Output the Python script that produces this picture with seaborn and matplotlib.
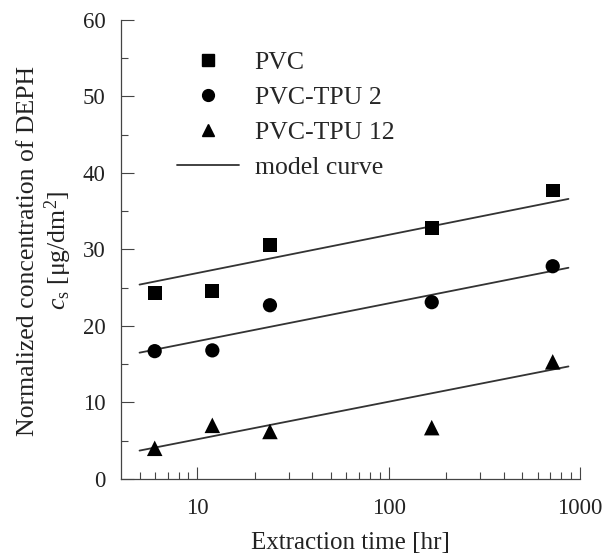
import numpy as np
import pandas as pd
import seaborn as sns
import matplotlib.pyplot as plt
from matplotlib.lines import Line2D
from matplotlib.ticker import FixedLocator, NullFormatter

# data
hours = [6, 12, 24, 168, 720]
pvc = [24.3, 24.6, 30.6, 32.8, 37.7]
tpu2 = [16.7, 16.8, 22.7, 23.1, 27.8]
tpu12 = [4.0, 7.0, 6.2, 6.7, 15.3]

# model curve endpoints (straight on log axis)
model_hours = [5, 870]
model_pvc = [25.4, 36.6]
model_tpu2 = [16.5, 27.6]
model_tpu12 = [3.7, 14.7]

series = ['PVC', 'PVC-TPU 2', 'PVC-TPU 12']

pts = pd.DataFrame({
    'hours': hours * 3,
    'cs': pvc + tpu2 + tpu12,
    'series': np.repeat(series, len(hours)),
})
model = pd.DataFrame({
    'hours': model_hours * 3,
    'cs': model_pvc + model_tpu2 + model_tpu12,
    'series': np.repeat(series, len(model_hours)),
})

sns.set_style('ticks')
plt.rcParams['font.family'] = ['Liberation Serif', 'DejaVu Serif']
plt.rcParams['mathtext.fontset'] = 'custom'
plt.rcParams['mathtext.rm'] = 'Liberation Serif'
plt.rcParams['mathtext.it'] = 'Liberation Serif:italic'

fig = plt.figure(figsize=(6.08, 5.53), dpi=100)
ax = fig.add_axes([0.199, 0.134, 0.755, 0.830])

markers = {'PVC': 's', 'PVC-TPU 2': 'o', 'PVC-TPU 12': '^'}
sizes = {'PVC': 100, 'PVC-TPU 2': 105, 'PVC-TPU 12': 125}

sns.lineplot(data=model, x='hours', y='cs', units='series', estimator=None,
             color='#333333', linewidth=1.3, ax=ax, legend=False)
for s in series:
    sns.scatterplot(data=pts[pts['series'] == s], x='hours', y='cs',
                    marker=markers[s], s=sizes[s], color='black',
                    edgecolor='none', ax=ax, legend=False, zorder=3)

ax.set_xscale('log')
ax.set_xlim(4, 1000)
ax.set_ylim(0, 60)
ax.xaxis.set_major_locator(FixedLocator([10, 100, 1000]))
ax.set_xticklabels(['10', '100', '1000'])
ax.xaxis.set_minor_locator(FixedLocator(
    [5, 6, 7, 8, 9, 20, 30, 40, 50, 60, 70, 80, 90,
     200, 300, 400, 500, 600, 700, 800, 900]))
ax.xaxis.set_minor_formatter(NullFormatter())
ax.set_yticks(range(0, 61, 10))
ax.yaxis.set_minor_locator(FixedLocator(range(5, 60, 10)))

sns.despine(ax=ax)
for sp in ['left', 'bottom']:
    ax.spines[sp].set_color('#444444')
    ax.spines[sp].set_linewidth(0.9)

ax.tick_params(which='major', direction='in', length=9, width=0.8,
               color='#444444', labelsize=16.5, labelcolor='#222222')
ax.tick_params(which='minor', direction='in', length=5, width=0.8,
               color='#444444')
ax.tick_params(axis='y', which='major', pad=11)
ax.tick_params(axis='x', which='major', pad=14)

ax.set_xlabel('Extraction time [hr]', fontsize=18, color='#222222')
ax.xaxis.set_label_coords(0.5, -0.115)
ax.set_ylabel('Normalized concentration of DEPH\n'
              r'$c_\mathrm{s}$ [μg/dm$^2$]',
              fontsize=18.5, color='#222222', linespacing=1.15)
ax.yaxis.set_label_coords(-0.102, 0.497)

handles = [Line2D([], [], marker='s', color='black', linestyle='none', markersize=8),
           Line2D([], [], marker='o', color='black', linestyle='none', markersize=8.5),
           Line2D([], [], marker='^', color='black', linestyle='none', markersize=9),
           Line2D([], [], color='#333333', linewidth=1.3)]
labels = series + ['model curve']
ax.legend(handles, labels, loc='upper left', bbox_to_anchor=(0.100, 0.955),
          frameon=False, fontsize=18.5, handlelength=2.4, handletextpad=0.62,
          labelspacing=0.47, borderaxespad=0)

fig.savefig('out.png', dpi=100, facecolor='white')
